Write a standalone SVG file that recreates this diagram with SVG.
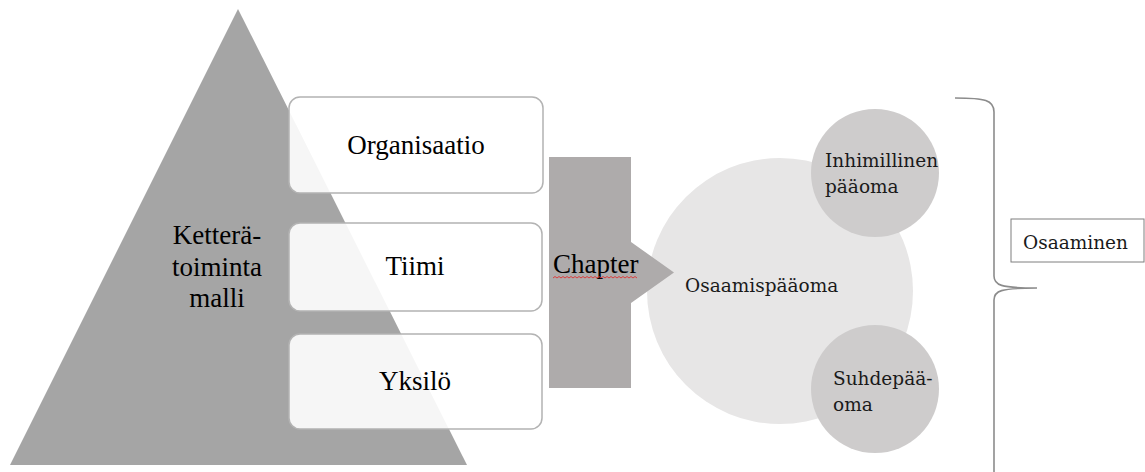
<svg xmlns="http://www.w3.org/2000/svg" width="1145" height="472" viewBox="0 0 1145 472">
<style>
.box{fill:#fff;fill-opacity:0.9;stroke:#b3b3b3;stroke-width:1.5}
.small{fill:#cecccc}
</style>
<rect width="1145" height="472" fill="#fff"/>
<g id="pyramid">
<polygon points="238,9 10,465 467,465" fill="#a5a5a5"/>
<g font-family="'Liberation Serif', 'Times New Roman', serif" font-size="27" text-anchor="middle">
<text x="217" y="244">Ketterä-</text>
<text x="217" y="276">toiminta</text>
<text x="217" y="307">malli</text>
</g>
</g>
<g id="organisaatio">
<rect class="box" x="289" y="97" width="254" height="96" rx="11"/>
<text font-family="'Liberation Serif', 'Times New Roman', serif" font-size="27" text-anchor="middle" x="416" y="154">Organisaatio</text>
</g>
<g id="tiimi">
<rect class="box" x="289" y="223" width="253" height="88" rx="11"/>
<text font-family="'Liberation Serif', 'Times New Roman', serif" font-size="27" text-anchor="middle" x="415" y="275">Tiimi</text>
</g>
<g id="yksilo">
<rect class="box" x="289" y="334" width="253" height="95" rx="11"/>
<text font-family="'Liberation Serif', 'Times New Roman', serif" font-size="27" text-anchor="middle" x="415" y="390">Yksilö</text>
</g>
<g id="osaamispaaoma">
<circle cx="780" cy="291" r="133" fill="#e7e6e6"/>
<text font-family="'DejaVu Serif', serif" font-size="18.5" fill="#1a1a1a" x="685" y="292">Osaamispääoma</text>
</g>
<g id="inhimillinen">
<circle class="small" cx="875" cy="173" r="64"/>
<g font-family="'DejaVu Serif', serif" font-size="18.5" fill="#1a1a1a">
<text x="825" y="167">Inhimillinen</text>
<text x="825" y="193">pääoma</text>
</g>
</g>
<g id="suhdepaaoma">
<circle class="small" cx="875" cy="389" r="64"/>
<g font-family="'DejaVu Serif', serif" font-size="18.5" fill="#1a1a1a">
<text x="833" y="385">Suhdepää-</text>
<text x="833" y="411">oma</text>
</g>
</g>
<g id="connectors">
<path d="M549,157 H631 V242 L674,272.5 L631,303 V388 H549 Z" fill="#aeabab"/>
<path d="M955,98 C985,98 994,100 994,112 V276 C994,285 1000,288 1037,288 C1000,288 994,291 994,300 V480" fill="none" stroke="#8c8c8c" stroke-width="1.6"/>
</g>
<g id="chapter">
<text font-family="'Liberation Serif', 'Times New Roman', serif" font-size="27" x="553" y="273">Chapter</text>
<path d="M553,278 l2,-1.5 l2,1.5 l2,-1.5 l2,1.5 l2,-1.5 l2,1.5 l2,-1.5 l2,1.5 l2,-1.5 l2,1.5 l2,-1.5 l2,1.5 l2,-1.5 l2,1.5 l2,-1.5 l2,1.5 l2,-1.5 l2,1.5 l2,-1.5 l2,1.5 l2,-1.5 l2,1.5 l2,-1.5 l2,1.5 l2,-1.5 l2,1.5 l2,-1.5 l2,1.5 l2,-1.5 l2,1.5 l2,-1.5 l2,1.5 l2,-1.5 l2,1.5 l2,-1.5 l2,1.5 l2,-1.5 l2,1.5 l2,-1.5 l2,1.5 l2,-1.5 l2,1.5" fill="none" stroke="#e03030" stroke-width="0.9"/>
</g>
<g id="osaaminen">
<rect x="1011" y="219" width="133" height="43" fill="#fff" stroke="#7f7f7f" stroke-width="1"/>
<text font-family="'DejaVu Serif', serif" font-size="18.5" fill="#1a1a1a" x="1023" y="249">Osaaminen</text>
</g>
</svg>
